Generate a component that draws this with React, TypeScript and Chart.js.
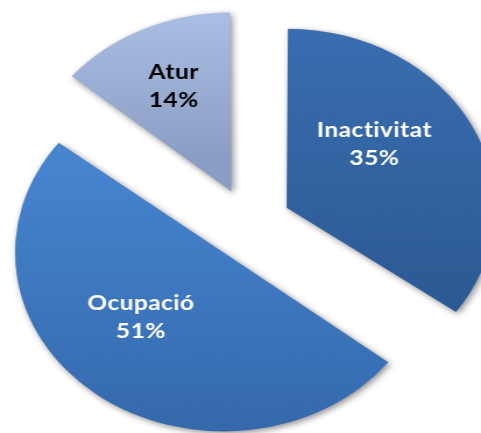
import React, { useEffect, useRef } from 'react';
import { Chart, registerables, ArcElement } from 'chart.js';

const categories = ['Inactivitat', 'Ocupació', 'Atur'];
const percentages = [35, 51, 14];
const topColors = ['#3B6FB2', '#4684CF', '#B2C5E9'];
const bottomColors = ['#2C5A94', '#3366A8', '#8A9DC4'];
const labelColors = ['#FFFFFF', '#FFFFFF', '#000000'];

const CANVAS_W = 413;
const CANVAS_H = 433;
const STRETCH_X = 481 / CANVAS_W;
const RADIUS = 179;
const EXPLODE = 36;
const LABEL_ANGLE_ADJ = [-13, 10, 0];
const LABEL_RADIUS = [0.55, 0.535, 0.65];

class ExplodedArc extends ArcElement {
  static id = 'explodedArc';
  draw(ctx: CanvasRenderingContext2D) {
    const self: any = this;
    const off = ((self.options && self.options.offset) || 0) / 4;
    const fix = 1 - Math.sin(Math.min(Math.PI, self.circumference || 0));
    const r = self.outerRadius;
    self.outerRadius = r - off * fix;
    super.draw(ctx);
    self.outerRadius = r;
  }
}

Chart.register(...registerables, ExplodedArc);
(Chart.defaults as any).datasets.pie.dataElementType = 'explodedArc';

function sliceGradient(context: any) {
  const chart = context.chart;
  const area = chart.chartArea;
  const i = context.dataIndex;
  if (!area || i === undefined) return topColors[i || 0];
  const total = percentages.reduce((a, b) => a + b, 0);
  const before = percentages.slice(0, i).reduce((a, b) => a + b, 0);
  const start = -Math.PI / 2 + (before / total) * Math.PI * 2;
  const end = start + (percentages[i] / total) * Math.PI * 2;
  const half = (start + end) / 2;
  const cy = (area.top + area.bottom) / 2 + Math.sin(half) * EXPLODE;
  let ymin = cy, ymax = cy;
  for (let t = 0; t <= 40; t++) {
    const a = start + ((end - start) * t) / 40;
    const y = cy + Math.sin(a) * RADIUS;
    ymin = Math.min(ymin, y);
    ymax = Math.max(ymax, y);
  }
  const g = chart.ctx.createLinearGradient(0, ymin, 0, ymax);
  g.addColorStop(0, topColors[i]);
  g.addColorStop(1, bottomColors[i]);
  return g;
}

const pieDecor = {
  id: 'pieDecor',
  beforeDatasetsDraw(chart: any) {
    const c = chart.ctx;
    c.save();
    c.shadowColor = 'rgba(0,0,0,0.45)';
    c.shadowBlur = 6;
    c.shadowOffsetX = 2;
    c.shadowOffsetY = 2;
  },
  afterDatasetsDraw(chart: any) {
    const c = chart.ctx;
    c.restore();
    const meta = chart.getDatasetMeta(0);
    meta.data.forEach((el: any, i: number) => {
      const { x, y, startAngle, endAngle, outerRadius } = el;
      const half = (startAngle + endAngle) / 2;
      const ox = x + Math.cos(half) * EXPLODE;
      const oy = y + Math.sin(half) * EXPLODE;
      const a = half + (LABEL_ANGLE_ADJ[i] * Math.PI) / 180;
      const px = ox + Math.cos(a) * outerRadius * LABEL_RADIUS[i];
      const py = oy + Math.sin(a) * outerRadius * LABEL_RADIUS[i];
      c.save();
      c.font = 'bold 21px Lato';
      try { (c as any).letterSpacing = '0.4px'; } catch (e) {}
      c.fillStyle = labelColors[i];
      c.textAlign = 'center';
      c.textBaseline = 'middle';
      c.fillText(categories[i], px, py - 14);
      c.fillText(`${percentages[i]}%`, px, py + 14);
      c.restore();
    });
  },
};

export default function App() {
  const ref = useRef<HTMLCanvasElement>(null);
  useEffect(() => {
    if (!ref.current) return;
    const chart = new Chart(ref.current, {
      type: 'pie',
      data: {
        labels: categories,
        datasets: [
          {
            data: percentages,
            backgroundColor: sliceGradient,
            borderWidth: 0,
            offset: EXPLODE * 4,
            radius: RADIUS,
            clip: false,
          } as any,
        ],
      },
      options: {
        animation: false,
        responsive: false,
        devicePixelRatio: 1,
        events: [],
        layout: { padding: { left: 15, right: 0, top: 15, bottom: 0 } },
        plugins: { legend: { display: false }, tooltip: { enabled: false } },
      } as any,
      plugins: [pieDecor],
    });
    return () => chart.destroy();
  }, []);
  return (
    <div style={{ position: 'fixed', left: 0, top: 0, width: 481, height: 433, overflow: 'hidden', background: '#fff' }}>
      <canvas
        ref={ref}
        width={CANVAS_W}
        height={CANVAS_H}
        style={{ display: 'block', width: CANVAS_W, height: CANVAS_H, transform: `scaleX(${STRETCH_X})`, transformOrigin: '0 0' }}
      />
    </div>
  );
}
